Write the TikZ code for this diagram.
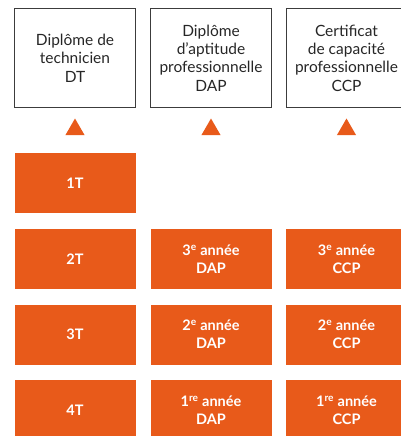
\documentclass[tikz,border=0pt]{standalone}
\usepackage{fontspec}
\setmainfont{Lato}
\usetikzlibrary{shapes.geometric}
\definecolor{orangebox}{RGB}{232,90,26}
\definecolor{cadre}{RGB}{60,60,60}

\begin{document}
\begin{tikzpicture}[x=1pt, y=-1pt,
    diplome/.style={draw=cadre, line width=1pt, minimum width=121pt, minimum height=98pt,
        align=center, text=black!85, inner sep=0pt, font=\fontsize{15.5}{18.3}\selectfont},
    annee/.style={fill=orangebox, minimum width=121pt, minimum height=60pt, inner sep=0pt,
        align=center, text=white, font=\bfseries\fontsize{14.5}{18}\selectfont},
    pointe/.style={fill=orangebox, regular polygon, regular polygon sides=3,
        minimum size=22pt, inner sep=0pt}]
    \clip (0,0) rectangle (401,436);
    \useasboundingbox (0,0) rectangle (401,436);

    % Draw diplomas
    \node[diplome] (dt) at (75, 58) {Diplôme de\\technicien\\DT};
    \node[diplome] (dap) at (211, 58) {Diplôme\\d’aptitude\\professionnelle\\DAP};
    \node[diplome] (ccp) at (346.5, 58) {Certificat\\de capacité\\professionnelle\\CCP};

    % Triangles under each diploma
    \node[pointe] (pdt) at (75, 129.5) {};
    \node[pointe] (pdap) at (211, 129.5) {};
    \node[pointe] (pccp) at (346.5, 129.5) {};

    % Years DT
    \node[annee] (t1) at (75, 183) {1T};
    \node[annee] (t2) at (75, 259) {2T};
    \node[annee] (t3) at (75, 334.5) {3T};
    \node[annee] (t4) at (75, 410) {4T};

    % Years DAP
    \node[annee] (dap3) at (211, 259) {3\textsuperscript{e} année\\DAP};
    \node[annee] (dap2) at (211, 334.5) {2\textsuperscript{e} année\\DAP};
    \node[annee] (dap1) at (211, 410) {1\textsuperscript{re} année\\DAP};

    % Years CCP
    \node[annee] (ccp3) at (346.5, 259) {3\textsuperscript{e} année\\CCP};
    \node[annee] (ccp2) at (346.5, 334.5) {2\textsuperscript{e} année\\CCP};
    \node[annee] (ccp1) at (346.5, 410) {1\textsuperscript{re} année\\CCP};
\end{tikzpicture}
\end{document}
